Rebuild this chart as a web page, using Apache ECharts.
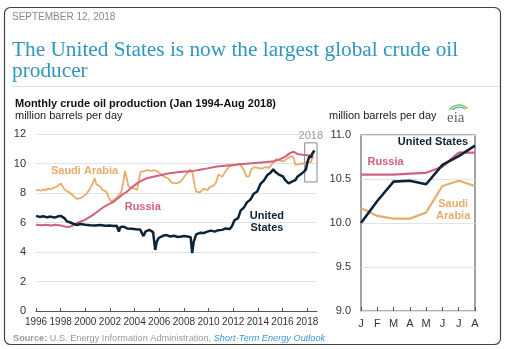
<!DOCTYPE html>
<html><head><meta charset="utf-8">
<script src="https://cdn.jsdelivr.net/npm/echarts@6/dist/echarts.min.js"></script>
<style>html,body{margin:0;padding:0;background:#fff}#c{width:508px;height:349px}</style>
</head><body><div id="c"></div>
<script>
// ---- data ----
const yearLabels = [1996,1998,2000,2002,2004,2006,2008,2010,2012,2014,2016,2018];
const leftYTicks = [0,2,4,6,8,10,12];
const monthLabels = ['J','F','M','A','M','J','J','A'];
const rightYTicks = [9.0,9.5,10.0,10.5,11.0];

// monthly crude production (year, million b/d)
const usLong = [[1996.0,6.45],[1996.3,6.38],[1996.6,6.42],[1996.9,6.35],[1997.2,6.40],[1997.5,6.33],[1997.8,6.42],[1998.0,6.45],[1998.3,6.30],[1998.5,6.08],[1998.8,6.00],[1999.0,5.92],[1999.3,5.83],[1999.6,5.90],[2000.0,5.85],[2000.4,5.82],[2000.8,5.80],[2001.2,5.83],[2001.6,5.78],[2002.0,5.80],[2002.3,5.76],[2002.55,5.78],[2002.72,5.38],[2002.85,5.70],[2003.1,5.72],[2003.4,5.60],[2003.8,5.58],[2004.1,5.55],[2004.45,5.52],[2004.72,5.08],[2004.9,5.40],[2005.2,5.50],[2005.5,5.35],[2005.67,4.14],[2005.8,4.70],[2005.95,4.95],[2006.3,5.10],[2006.6,5.15],[2006.9,5.05],[2007.2,5.10],[2007.5,5.02],[2007.8,5.05],[2008.0,5.08],[2008.3,5.05],[2008.55,5.00],[2008.67,3.92],[2008.8,4.70],[2009.0,5.20],[2009.3,5.30],[2009.6,5.28],[2009.9,5.38],[2010.2,5.45],[2010.5,5.38],[2010.8,5.48],[2011.1,5.50],[2011.4,5.60],[2011.7,5.55],[2011.9,5.75],[2012.1,6.15],[2012.4,6.30],[2012.6,6.80],[2012.9,7.05],[2013.1,7.35],[2013.4,7.55],[2013.67,7.95],[2013.95,8.10],[2014.2,8.60],[2014.5,8.85],[2014.75,9.20],[2015.0,9.35],[2015.25,9.60],[2015.45,9.40],[2015.7,9.25],[2016.0,9.15],[2016.25,8.85],[2016.5,8.65],[2016.65,8.54],[2016.85,8.80],[2017.05,8.88],[2017.2,9.10],[2017.45,9.25],[2017.6,9.20],[2017.75,9.45],[2017.9,9.60],[2018.0,10.0],[2018.083,10.25],[2018.167,10.47],[2018.25,10.48],[2018.333,10.44],[2018.417,10.66],[2018.5,10.76],[2018.583,10.88]];
const russiaLong = [[1996.0,5.85],[1996.4,5.82],[1996.8,5.85],[1997.2,5.80],[1997.6,5.85],[1998.0,5.80],[1998.4,5.72],[1998.7,5.70],[1999.0,5.80],[1999.3,5.95],[1999.6,6.05],[2000.0,6.20],[2000.3,6.35],[2000.6,6.50],[2001.0,6.75],[2001.4,7.00],[2001.8,7.20],[2002.3,7.40],[2002.8,7.75],[2003.1,7.95],[2003.4,8.10],[2003.8,8.40],[2004.2,8.65],[2004.6,8.85],[2005.0,9.00],[2005.5,9.10],[2006.1,9.20],[2006.6,9.30],[2007.0,9.35],[2007.5,9.40],[2008.0,9.45],[2008.4,9.45],[2008.8,9.50],[2009.4,9.60],[2009.9,9.67],[2010.7,9.80],[2011.3,9.85],[2012.0,9.90],[2012.6,9.95],[2013.3,10.0],[2014.0,10.05],[2014.7,10.10],[2015.3,10.15],[2015.8,10.30],[2016.2,10.45],[2016.6,10.70],[2016.9,10.80],[2017.2,10.65],[2017.6,10.60],[2017.9,10.58],[2018.0,10.55],[2018.083,10.55],[2018.167,10.55],[2018.25,10.56],[2018.333,10.57],[2018.417,10.64],[2018.5,10.80],[2018.583,10.80]];
const saudiLong = [[1996.0,8.15],[1996.2,8.22],[1996.4,8.15],[1996.6,8.25],[1996.8,8.20],[1997.0,8.30],[1997.2,8.25],[1997.4,8.35],[1997.6,8.40],[1997.8,8.50],[1998.0,8.65],[1998.15,8.55],[1998.35,8.20],[1998.6,8.10],[1998.9,7.90],[1999.1,7.75],[1999.3,7.60],[1999.6,7.65],[1999.9,7.80],[2000.1,7.95],[2000.35,8.25],[2000.6,8.65],[2000.75,9.00],[2000.9,8.60],[2001.2,8.45],[2001.4,8.20],[2001.7,8.10],[2001.9,7.70],[2002.1,7.40],[2002.35,7.55],[2002.6,7.75],[2002.9,8.00],[2003.1,8.80],[2003.22,9.50],[2003.35,9.05],[2003.5,8.45],[2003.8,8.35],[2004.0,8.30],[2004.2,8.20],[2004.4,9.10],[2004.5,9.45],[2004.7,9.45],[2005.0,9.55],[2005.3,9.50],[2005.6,9.55],[2005.9,9.45],[2006.1,9.30],[2006.4,9.10],[2006.7,9.00],[2007.0,8.70],[2007.4,8.65],[2007.7,8.75],[2007.95,9.00],[2008.2,9.30],[2008.5,9.60],[2008.7,9.40],[2008.85,8.60],[2009.0,8.10],[2009.3,8.05],[2009.6,8.30],[2009.9,8.20],[2010.1,8.40],[2010.4,8.50],[2010.6,8.70],[2010.8,9.25],[2011.1,9.10],[2011.4,9.50],[2011.7,9.80],[2011.9,9.85],[2012.2,9.90],[2012.5,10.00],[2012.8,9.65],[2013.1,9.10],[2013.3,9.15],[2013.45,9.60],[2013.7,9.75],[2014.0,9.70],[2014.3,9.65],[2014.6,9.75],[2014.9,9.70],[2015.2,10.00],[2015.5,10.30],[2015.8,10.20],[2016.1,10.15],[2016.4,10.35],[2016.7,10.50],[2016.9,10.40],[2017.05,9.90],[2017.3,9.95],[2017.6,10.00],[2017.85,10.00],[2018.0,10.17],[2018.083,10.08],[2018.167,10.05],[2018.25,10.05],[2018.333,10.12],[2018.417,10.42],[2018.5,10.48],[2018.583,10.42]];

// Jan-Aug 2018
const us2018 = [10.00,10.25,10.47,10.48,10.44,10.66,10.76,10.88];
const russia2018 = [10.55,10.55,10.55,10.56,10.57,10.64,10.80,10.80];
const saudi2018 = [10.17,10.08,10.05,10.05,10.12,10.42,10.48,10.42];

// ---- colours ----
const C_US = '#0c2437', C_RU = '#d2607c', C_SA = '#e6ad6c';

const chart = echarts.init(document.getElementById('c'), null, {renderer:'canvas'});
const idx = arr => arr.map((v,i)=>[i,v]);
const lblFont = {fontFamily:'Liberation Sans, Arial, sans-serif'};

function mp(coord, text, color, lh){
  return {coord, symbol:'circle', symbolSize:1, itemStyle:{color:'rgba(0,0,0,0)'},
    label:{show:true, position:'inside', formatter:text, color, fontWeight:'bold', fontSize:11,
      lineHeight: lh||13, fontFamily:'Liberation Sans, Arial, sans-serif'}};
}

chart.setOption({
  animation:false,
  backgroundColor:'#fff',
  grid:[
    {left:36, top:134, width:281, height:177},
    {left:361, top:135, width:114, height:176, show:true, borderColor:'#666', borderWidth:1.2, backgroundColor:'rgba(0,0,0,0)'}
  ],
  xAxis:[
    {type:'value', gridIndex:0, min:1996, max:2018.8, interval:2,
      axisLine:{show:true, lineStyle:{color:'#555', width:1.2}},
      axisTick:{show:true, inside:true, length:3, lineStyle:{color:'#555'}},
      splitLine:{show:false},
      axisLabel:{color:'#333', fontSize:10, margin:6, showMaxLabel:false, ...lblFont,
        formatter: v => yearLabels.includes(Math.round(v*1000)/1000) ? String(v) : ''}},
    {type:'value', gridIndex:1, min:0, max:7, interval:1,
      axisLine:{show:false},
      axisTick:{show:true, inside:true, length:4, lineStyle:{color:'#555'}},
      splitLine:{show:false},
      axisLabel:{color:'#333', fontSize:11, margin:7, ...lblFont,
        formatter: v => monthLabels[Math.round(v)] || ''}}
  ],
  yAxis:[
    {type:'value', gridIndex:0, min:0, max:12, interval:2,
      axisLine:{show:false}, axisTick:{show:false},
      splitLine:{show:true, lineStyle:{color:'#e2e2e2', width:1}},
      axisLabel:{color:'#333', fontSize:11, margin:10, ...lblFont,
        formatter: v => leftYTicks.includes(v) ? String(v) : ''}},
    {type:'value', gridIndex:1, min:9, max:11, interval:0.5,
      axisLine:{show:false}, axisTick:{show:false},
      splitLine:{show:true, lineStyle:{color:'#e2e2e2', width:1}},
      axisLabel:{color:'#333', fontSize:11, margin:10, ...lblFont,
        formatter: v => rightYTicks.includes(v) ? v.toFixed(1) : ''}}
  ],
  series:[
    {type:'line', xAxisIndex:0, yAxisIndex:0, data:saudiLong, showSymbol:false, z:2,
      lineStyle:{color:C_SA, width:1.8},
      markPoint:{data:[mp([1999.94,9.49],'Saudi Arabia',C_SA)]}},
    {type:'line', xAxisIndex:0, yAxisIndex:0, data:russiaLong, showSymbol:false, z:3,
      lineStyle:{color:C_RU, width:2},
      markPoint:{data:[mp([2004.66,7.07],'Russia',C_RU)]}},
    {type:'line', xAxisIndex:0, yAxisIndex:0, data:usLong, showSymbol:false, z:4,
      lineStyle:{color:C_US, width:2.5},
      markPoint:{data:[mp([2014.74,6.03],'United\nStates',C_US,12.6)]},
      markArea:{silent:true,
        itemStyle:{color:'rgba(0,0,0,0)', borderColor:'#888', borderWidth:1},
        label:{show:true, position:'top', distance:1, color:'#999', fontSize:11, ...lblFont},
        data:[[{name:'2018', xAxis:2017.8, yAxis:8.75},{xAxis:2018.8, yAxis:11.4}]]}},
    {type:'line', xAxisIndex:1, yAxisIndex:1, data:idx(saudi2018), showSymbol:false, z:2,
      lineStyle:{color:C_SA, width:2.2},
      markPoint:{data:[mp([5.66,10.15],'Saudi\nArabia',C_SA,12.6)]}},
    {type:'line', xAxisIndex:1, yAxisIndex:1, data:idx(russia2018), showSymbol:false, z:3,
      lineStyle:{color:C_RU, width:2.2},
      markPoint:{data:[mp([1.51,10.69],'Russia',C_RU)]}},
    {type:'line', xAxisIndex:1, yAxisIndex:1, data:idx(us2018), showSymbol:false, z:4,
      lineStyle:{color:C_US, width:2.6},
      markPoint:{data:[mp([4.42,10.92],'United States',C_US)]}}
  ],
  graphic:[
    {type:'rect', shape:{x:4.5, y:7.5, width:496, height:337, r:6}, style:{fill:null, stroke:'#444', lineWidth:1.2}, z:100},
    {type:'text', x:12, y:17, style:{text:'SEPTEMBER 12, 2018', font:'10px "Liberation Sans", Arial, sans-serif', fill:'#888', textVerticalAlign:'middle'}},
    {type:'text', x:12, y:50, style:{text:'The United States is now the largest global crude oil', font:'21.3px "Liberation Serif", "Times New Roman", serif', fill:'#2f96c0', textVerticalAlign:'middle'}},
    {type:'text', x:12, y:71, style:{text:'producer', font:'21.3px "Liberation Serif", "Times New Roman", serif', fill:'#2f96c0', textVerticalAlign:'middle'}},
    {type:'line', shape:{x1:12, y1:86.5, x2:500, y2:86.5}, style:{stroke:'#e0e0e0', lineWidth:1}},
    {type:'text', x:15, y:104, style:{text:'Monthly crude oil production (Jan 1994-Aug 2018)', font:'bold 11px "Liberation Sans", Arial, sans-serif', fill:'#111', textVerticalAlign:'middle'}},
    {type:'text', x:15, y:116, style:{text:'million barrels per day', font:'11px "Liberation Sans", Arial, sans-serif', fill:'#222', textVerticalAlign:'middle'}},
    {type:'text', x:329, y:116, style:{text:'million barrels per day', font:'11px "Liberation Sans", Arial, sans-serif', fill:'#222', textVerticalAlign:'middle'}},
    {type:'text', x:447, y:118, style:{text:'eia', font:'15px "Liberation Serif", serif', fill:'#666', textVerticalAlign:'middle'}},
    {type:'arc', shape:{cx:459, cy:117, r:12, startAngle:-Math.PI*0.8, endAngle:-Math.PI*0.25}, style:{fill:null, stroke:'#8dc63f', lineWidth:1.5}},
    {type:'arc', shape:{cx:459, cy:117, r:10, startAngle:-Math.PI*0.75, endAngle:-Math.PI*0.3}, style:{fill:null, stroke:'#2e9fd8', lineWidth:1.2}},
    {type:'text', x:13, y:338, style:{
      text:'{b|Source:} {n|U.S. Energy Information Administration,} {i|Short-Term Energy Outlook}',
      textVerticalAlign:'middle',
      rich:{
        b:{fontWeight:'bold', fontSize:9.2, fill:'#999', fontFamily:'Liberation Sans, Arial, sans-serif'},
        n:{fontSize:9.2, fill:'#999', fontFamily:'Liberation Sans, Arial, sans-serif'},
        i:{fontSize:9.2, fontStyle:'italic', fill:'#3b9ad1', fontFamily:'Liberation Sans, Arial, sans-serif'}
      }, font:'9.2px "Liberation Sans", Arial, sans-serif', fill:'#999'}}
  ]
});
</script>
</body></html>
